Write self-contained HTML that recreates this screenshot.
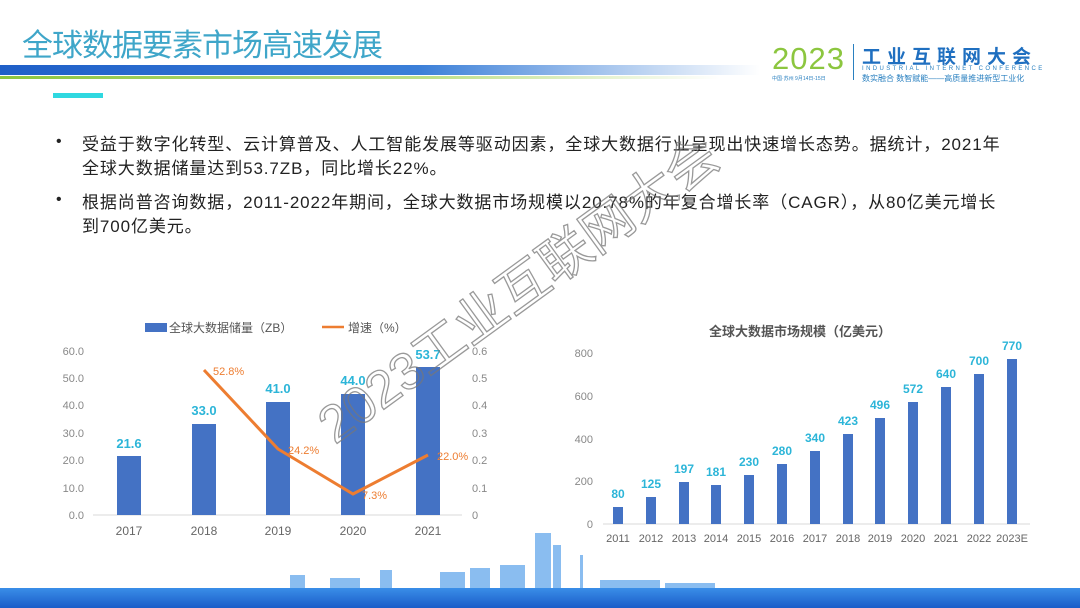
<!DOCTYPE html>
<html><head><meta charset="utf-8"><style>
body{margin:0;width:1080px;height:608px;overflow:hidden;background:#fff;font-family:"Liberation Sans","Noto Sans CJK SC",sans-serif;position:relative}
.a{position:absolute}
.t{font-size:17px;line-height:24px;color:#222;letter-spacing:0.9px;white-space:nowrap}
</style></head><body>
<div class="a" style="left:22px;top:20px;font-size:31px;color:#3fa6c9;letter-spacing:-1px">全球数据要素市场高速发展</div>
<div class="a" style="left:0;top:65px;width:760px;height:10px;background:linear-gradient(90deg,#1f5fc8,#3b7fd8 55%,#fff)"></div>
<div class="a" style="left:0;top:76px;width:720px;height:3px;background:linear-gradient(90deg,#8cc63f,#bfe08a 60%,#fff)"></div>
<div class="a" style="left:53px;top:93px;width:50px;height:5px;background:#2fd8e0"></div>
<div class="a" style="left:772px;top:41px;font-size:31px;color:#8cc63f;letter-spacing:1px">2023</div>
<div class="a" style="left:853px;top:44px;width:1px;height:36px;background:#2a80c0"></div>
<div class="a" style="left:862px;top:42px;font-size:19px;font-weight:bold;color:#1f6fc0;letter-spacing:6px">工业互联网大会</div>
<div class="a" style="left:862px;top:66px;font-size:6px;color:#2a80c0;letter-spacing:2.4px">INDUSTRIAL INTERNET CONFERENCE</div>
<div class="a" style="left:862px;top:73px;font-size:8px;color:#2a80c0">数实融合 数智赋能——高质量推进新型工业化</div>
<div class="a" style="left:772px;top:75px;font-size:5px;color:#2a80c0">中国·苏州 9月14日-15日</div>

<div class="a" style="left:56px;top:133px;font-size:16px;color:#222">•</div>
<div class="a t" style="left:82px;top:133px">受益于数字化转型、云计算普及、人工智能发展等驱动因素，全球大数据行业呈现出快速增长态势。据统计，2021年<br>全球大数据储量达到53.7ZB，同比增长22%。</div>
<div class="a" style="left:56px;top:191px;font-size:16px;color:#222">•</div>
<div class="a t" style="left:82px;top:191px">根据尚普咨询数据，2011-2022年期间，全球大数据市场规模以20.78%的年复合增长率（CAGR），从80亿美元增长<br>到700亿美元。</div>

<svg class="a" style="left:0;top:0" width="1080" height="608" font-family="Liberation Sans,Noto Sans CJK SC,sans-serif">
<rect x="145" y="323" width="22" height="9" fill="#4472c4"/>
<text x="169" y="332" font-size="12" fill="#555">全球大数据储量（ZB）</text>
<line x1="322" y1="327" x2="344" y2="327" stroke="#ed7d31" stroke-width="2.5"/>
<text x="348" y="332" font-size="12" fill="#555">增速（%）</text>
<g font-size="11" fill="#888" text-anchor="end">
<text x="84" y="519">0.0</text><text x="84" y="492">10.0</text><text x="84" y="464">20.0</text><text x="84" y="437">30.0</text><text x="84" y="409">40.0</text><text x="84" y="382">50.0</text><text x="84" y="355">60.0</text>
</g>
<g font-size="11" fill="#888">
<text x="472" y="519">0</text><text x="472" y="492">0.1</text><text x="472" y="464">0.2</text><text x="472" y="437">0.3</text><text x="472" y="409">0.4</text><text x="472" y="382">0.5</text><text x="472" y="355">0.6</text>
</g>
<line x1="93" y1="515" x2="462" y2="515" stroke="#d9d9d9"/>
<g fill="#4472c4">
<rect x="117" y="456" width="24" height="59"/><rect x="192" y="424" width="24" height="91"/><rect x="266" y="402" width="24" height="113"/><rect x="341" y="394" width="24" height="121"/><rect x="416" y="367" width="24" height="148"/>
</g>
<g font-size="13" font-weight="bold" fill="#2cb5d8" text-anchor="middle">
<text x="129" y="448">21.6</text><text x="204" y="415">33.0</text><text x="278" y="393">41.0</text><text x="353" y="385">44.0</text><text x="428" y="359">53.7</text>
</g>
<polyline points="204,370 278,449 353,494 428,455" fill="none" stroke="#ed7d31" stroke-width="3"/>
<g font-size="11" fill="#ed7d31">
<text x="213" y="375">52.8%</text><text x="288" y="454">24.2%</text><text x="362" y="499">7.3%</text><text x="437" y="460">22.0%</text>
</g>
<g font-size="12" fill="#666" text-anchor="middle">
<text x="129" y="535">2017</text><text x="204" y="535">2018</text><text x="278" y="535">2019</text><text x="353" y="535">2020</text><text x="428" y="535">2021</text>
</g>
<text x="800" y="336" font-size="13" font-weight="bold" fill="#555" text-anchor="middle">全球大数据市场规模（亿美元）</text>
<g font-size="11" fill="#888" text-anchor="end">
<text x="593" y="528">0</text><text x="593" y="485">200</text><text x="593" y="443">400</text><text x="593" y="400">600</text><text x="593" y="357">800</text>
</g>
<line x1="603" y1="524" x2="1030" y2="524" stroke="#d9d9d9"/>
<g fill="#4472c4">
<rect x="613" y="507" width="10" height="17"/><rect x="646" y="497" width="10" height="27"/><rect x="679" y="482" width="10" height="42"/><rect x="711" y="485" width="10" height="39"/><rect x="744" y="475" width="10" height="49"/><rect x="777" y="464" width="10" height="60"/><rect x="810" y="451" width="10" height="73"/><rect x="843" y="434" width="10" height="90"/><rect x="875" y="418" width="10" height="106"/><rect x="908" y="402" width="10" height="122"/><rect x="941" y="387" width="10" height="137"/><rect x="974" y="374" width="10" height="150"/><rect x="1007" y="359" width="10" height="165"/>
</g>
<g font-size="12" font-weight="bold" fill="#2cb5d8" text-anchor="middle">
<text x="618" y="498">80</text><text x="651" y="488">125</text><text x="684" y="473">197</text><text x="716" y="476">181</text><text x="749" y="466">230</text><text x="782" y="455">280</text><text x="815" y="442">340</text><text x="848" y="425">423</text><text x="880" y="409">496</text><text x="913" y="393">572</text><text x="946" y="378">640</text><text x="979" y="365">700</text><text x="1012" y="350">770</text>
</g>
<g font-size="11" fill="#666" text-anchor="middle">
<text x="618" y="542">2011</text><text x="651" y="542">2012</text><text x="684" y="542">2013</text><text x="716" y="542">2014</text><text x="749" y="542">2015</text><text x="782" y="542">2016</text><text x="815" y="542">2017</text><text x="848" y="542">2018</text><text x="880" y="542">2019</text><text x="913" y="542">2020</text><text x="946" y="542">2021</text><text x="979" y="542">2022</text><text x="1012" y="542">2023E</text>
</g>
<text x="0" y="0" transform="translate(335,445) rotate(-36)" font-size="52" fill="none" stroke="#777" stroke-width="1.3" opacity="0.75">2023工业互联网大会</text>
<g fill="#5aa2ea" opacity="0.7">
<rect x="535" y="533" width="16" height="57"/><rect x="553" y="545" width="8" height="45"/><rect x="500" y="565" width="25" height="25"/><rect x="470" y="568" width="20" height="22"/><rect x="440" y="572" width="25" height="18"/><rect x="380" y="570" width="12" height="20"/><rect x="330" y="578" width="30" height="12"/><rect x="290" y="575" width="15" height="15"/><rect x="580" y="555" width="3" height="35"/><rect x="600" y="580" width="60" height="10"/><rect x="665" y="583" width="50" height="7"/>
</g>
</svg>
<div class="a" style="left:0;top:588px;width:1080px;height:20px;background:linear-gradient(180deg,#3a8ee8,#1a5cc8)"></div>
</body></html>
